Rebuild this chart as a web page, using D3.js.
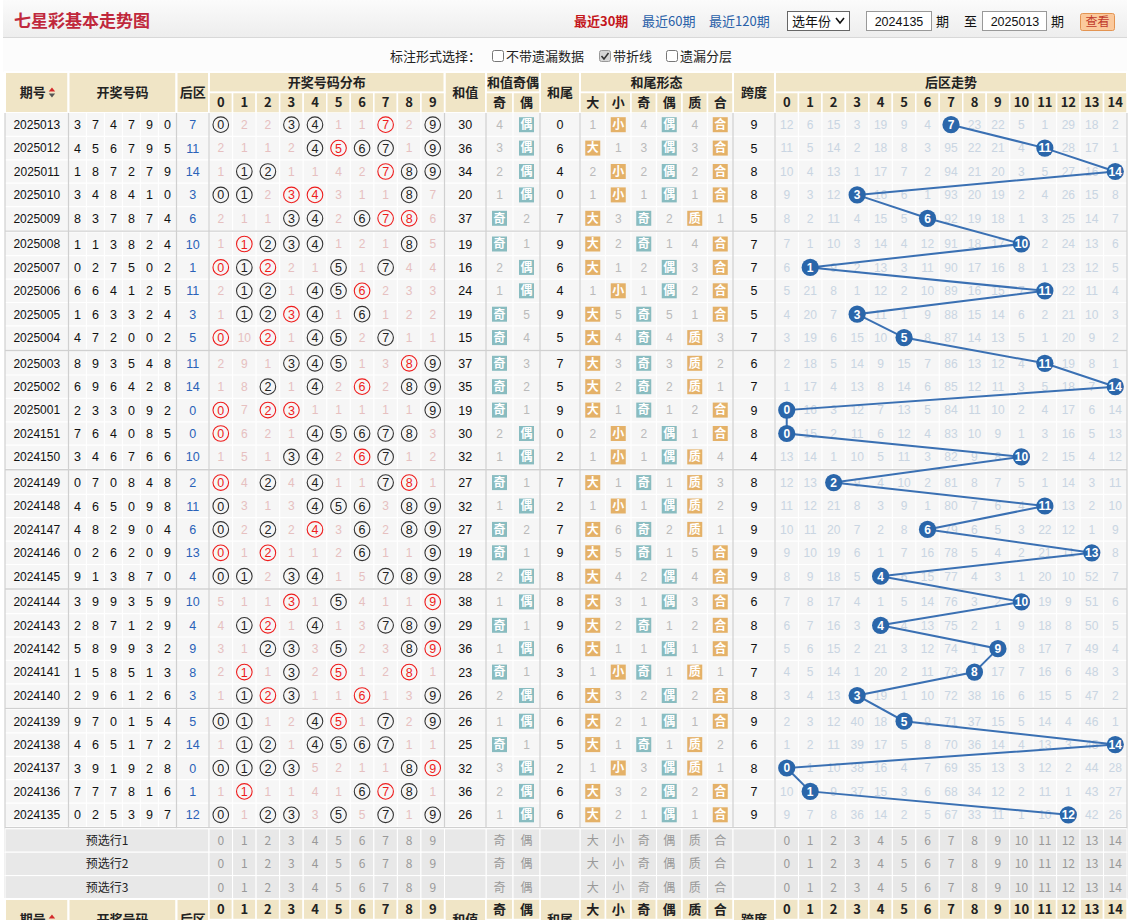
<!DOCTYPE html>
<html><head><meta charset="utf-8">
<script src="https://cdn.jsdelivr.net/npm/d3@7/dist/d3.min.js"></script>
<style>
body{margin:0;background:#fff;}
svg{display:block;font-family:"Liberation Sans","Noto Sans CJK SC",sans-serif;}
</style>
</head><body>
<svg id="c" width="1129" height="920"></svg>
<script>
// ---------------- DATA ----------------
const periods = ["2025013","2025012","2025011","2025010","2025009","2025008","2025007","2025006","2025005","2025004","2025003","2025002","2025001","2024151","2024150","2024149","2024148","2024147","2024146","2024145","2024144","2024143","2024142","2024141","2024140","2024139","2024138","2024137","2024136","2024135"];
const frontNums = [[3,7,4,7,9,0],[4,5,6,7,9,5],[1,8,7,2,7,9],[3,4,8,4,1,0],[8,3,7,8,7,4],[1,1,3,8,2,4],[0,2,7,5,0,2],[6,6,4,1,2,5],[1,6,3,3,2,4],[4,7,2,0,0,2],[8,9,3,5,4,8],[6,9,6,4,2,8],[2,3,3,0,9,2],[7,6,4,0,8,5],[3,4,6,7,6,6],[0,7,0,8,4,8],[4,6,5,0,9,8],[4,8,2,9,0,4],[0,2,6,2,0,9],[9,1,3,8,7,0],[3,9,9,3,5,9],[2,8,7,1,2,9],[5,8,9,9,3,2],[1,5,8,5,1,3],[2,9,6,1,2,6],[9,7,0,1,5,4],[4,6,5,1,7,2],[3,9,1,9,2,8],[7,7,7,8,1,6],[0,2,5,3,9,7]];
const backNums = [7,11,14,3,6,10,1,11,3,5,11,14,0,0,10,2,11,6,13,4,10,4,9,8,3,5,14,0,1,12];
// distribution 0-9: 0 = drawn (circled), otherwise omission count
const distMiss = [[0,2,2,0,0,1,1,0,2,0],[2,1,1,2,0,0,0,0,1,0],[1,0,0,1,1,4,2,0,0,0],[0,0,2,0,0,3,1,1,0,7],[2,1,1,0,0,2,0,0,0,6],[1,0,0,0,0,1,2,1,0,5],[0,0,0,2,1,0,1,0,4,4],[2,0,0,1,0,0,0,2,3,3],[1,0,0,0,0,1,0,1,2,2],[0,10,0,1,0,0,2,0,1,1],[2,9,1,0,0,0,1,3,0,0],[1,8,0,1,0,2,0,2,0,0],[0,7,0,0,1,1,1,1,1,0],[0,6,2,1,0,0,0,0,0,3],[1,5,1,0,0,2,0,0,1,2],[0,4,0,4,0,1,1,0,0,1],[0,3,1,3,0,0,0,3,0,0],[0,2,0,2,0,3,0,2,0,0],[0,1,0,1,1,2,0,1,1,0],[0,0,2,0,0,1,5,0,0,0],[5,1,1,0,1,0,4,1,1,0],[4,0,0,1,0,1,3,0,0,0],[3,1,0,0,3,0,2,3,0,0],[2,0,1,0,2,0,1,2,0,1],[1,0,0,0,1,1,0,1,3,0],[0,0,1,2,0,0,1,0,2,0],[1,0,0,1,0,0,0,0,1,1],[0,0,0,0,5,2,1,1,0,0],[1,0,1,1,4,1,0,0,0,1],[0,1,0,0,3,0,5,0,1,0]];
const distRed = [[7],[5],[7],[3,4],[7,8],[1],[0,2],[6],[3],[0,2],[8],[6],[0,2,3],[0],[6],[0,8],[],[4],[0,2],[],[3,9],[2],[9],[1,5,8],[2,6],[5],[],[9],[1,7],[]];
const sums = [30,36,34,20,37,19,16,24,19,15,37,35,19,30,32,27,32,27,19,28,38,29,36,23,26,26,25,32,36,26];
const sumParity = [[4,0],[3,0],[2,0],[1,0],[0,2],[0,1],[2,0],[1,0],[0,5],[0,4],[0,3],[0,2],[0,1],[2,0],[1,0],[0,1],[1,0],[0,2],[0,1],[2,0],[1,0],[0,1],[1,0],[0,1],[2,0],[1,0],[0,1],[3,0],[2,0],[1,0]];
const tails = [0,6,4,0,7,9,6,4,9,5,7,5,9,0,2,7,2,7,9,8,8,9,6,3,6,6,5,2,6,6];
const tailSize = [[1,0],[0,1],[2,0],[1,0],[0,3],[0,2],[0,1],[1,0],[0,5],[0,4],[0,3],[0,2],[0,1],[2,0],[1,0],[0,1],[1,0],[0,6],[0,5],[0,4],[0,3],[0,2],[0,1],[1,0],[0,3],[0,2],[0,1],[1,0],[0,3],[0,2]];
const tailParity = [[4,0],[3,0],[2,0],[1,0],[0,2],[0,1],[2,0],[1,0],[0,5],[0,4],[0,3],[0,2],[0,1],[2,0],[1,0],[0,1],[1,0],[0,2],[0,1],[2,0],[1,0],[0,1],[1,0],[0,1],[2,0],[1,0],[0,1],[3,0],[2,0],[1,0]];
const tailPrime = [[4,0],[3,0],[2,0],[1,0],[0,1],[4,0],[3,0],[2,0],[1,0],[0,3],[0,2],[0,1],[2,0],[1,0],[0,4],[0,3],[0,2],[0,1],[5,0],[4,0],[3,0],[2,0],[1,0],[0,1],[2,0],[1,0],[0,2],[0,1],[2,0],[1,0]];
const spans = [9,5,8,8,5,7,7,5,5,7,6,7,9,8,4,8,9,9,9,9,6,8,7,7,8,9,6,8,7,9];
const backMiss = [[12,6,15,3,19,9,4,0,23,22,5,1,29,18,2],[11,5,14,2,18,8,3,95,22,21,4,0,28,17,1],[10,4,13,1,17,7,2,94,21,20,3,5,27,16,0],[9,3,12,0,16,6,1,93,20,19,2,4,26,15,8],[8,2,11,4,15,5,0,92,19,18,1,3,25,14,7],[7,1,10,3,14,4,12,91,18,17,0,2,24,13,6],[6,0,9,2,13,3,11,90,17,16,8,1,23,12,5],[5,21,8,1,12,2,10,89,16,15,7,0,22,11,4],[4,20,7,0,11,1,9,88,15,14,6,2,21,10,3],[3,19,6,15,10,0,8,87,14,13,5,1,20,9,2],[2,18,5,14,9,15,7,86,13,12,4,0,19,8,1],[1,17,4,13,8,14,6,85,12,11,3,5,18,7,0],[0,16,3,12,7,13,5,84,11,10,2,4,17,6,14],[0,15,2,11,6,12,4,83,10,9,1,3,16,5,13],[13,14,1,10,5,11,3,82,9,8,0,2,15,4,12],[12,13,0,9,4,10,2,81,8,7,5,1,14,3,11],[11,12,21,8,3,9,1,80,7,6,4,0,13,2,10],[10,11,20,7,2,8,0,79,6,5,3,22,12,1,9],[9,10,19,6,1,7,16,78,5,4,2,21,11,0,8],[8,9,18,5,0,6,15,77,4,3,1,20,10,52,7],[7,8,17,4,1,5,14,76,3,2,0,19,9,51,6],[6,7,16,3,0,4,13,75,2,1,9,18,8,50,5],[5,6,15,2,21,3,12,74,1,0,8,17,7,49,4],[4,5,14,1,20,2,11,73,0,17,7,16,6,48,3],[3,4,13,0,19,1,10,72,38,16,6,15,5,47,2],[2,3,12,40,18,0,9,71,37,15,5,14,4,46,1],[1,2,11,39,17,5,8,70,36,14,4,13,3,45,0],[0,1,10,38,16,4,7,69,35,13,3,12,2,44,28],[10,0,9,37,15,3,6,68,34,12,2,11,1,43,27],[9,7,8,36,14,2,5,67,33,11,1,10,0,42,26]];
const distLabels = ["0","1","2","3","4","5","6","7","8","9"];
const parityLabels = ["奇","偶"];
const shapeLabels = ["大","小","奇","偶","质","合"];
const backLabels = ["0","1","2","3","4","5","6","7","8","9","10","11","12","13","14"];
const preRows = ["预选行1","预选行2","预选行3"];

// ---------------- LAYOUT ----------------
const C = {beige:'#f0e5c6', cell:'#f6f6f6', pre:'#e8e8e8', sep:'#d0d0d0',
  pink:'#e6c0c0', gray:'#bababa', backMiss:'#c9d5e2', teal:'#89bcc0', orange:'#e4b168',
  ball:'#2a66aa', line:'#3a70b3', red:'#ee1c1c', blueTxt:'#2a62b8', dark:'#222'};
const svg = d3.select('#c');
const TOP = 113, ROWH = 23.4, GAP = 2.3, N = periods.length;
const yRow = d3.scaleLinear().domain([0,1]).range([0,ROWH]);
const rowTop = i => TOP + yRow(i) + Math.floor(i/5)*GAP;
const rowMid = i => rowTop(i) + ROWH/2;

const xPeriod=[5,68.5], xBackCol=[176.5,209], xSum=[444.5,486], xTail=[540,580], xSpan=[733,775];
const xNum = d3.scaleBand().domain(d3.range(6)).range([68.5,176.5]);
const xDist = d3.scaleBand().domain(d3.range(10)).range([209,444.5]);
const xPar = d3.scaleBand().domain([0,1]).range([486,540]);
const xShape = d3.scaleBand().domain(d3.range(6)).range([580,733]);
const xBack = d3.scaleBand().domain(d3.range(15)).range([775,1127]);
const cx = (sc,v) => sc(v) + sc.bandwidth()/2;
const mid = a => (a[0]+a[1])/2;

function text(g,x,y,s,o={}){
  return g.append('text').attr('x',x).attr('y',y).attr('dy','0.36em')
    .attr('text-anchor',o.anchor||'middle').attr('font-size',o.size||12)
    .attr('font-weight',o.weight||'normal').attr('fill',o.fill||C.dark)
    .attr('font-family',o.family||null).text(s);
}
function cell(g,x0,x1,y0,y1,fill,sw){
  g.append('rect').attr('x',x0).attr('y',y0).attr('width',x1-x0).attr('height',y1-y0)
   .attr('fill',fill).attr('stroke','#fff').attr('stroke-width',sw||1);
}
const CJK = '"Noto Sans CJK SC",sans-serif';

// ---------------- TOP BAR ----------------
const defs = svg.append('defs');
const lg = defs.append('linearGradient').attr('id','tb').attr('x1',0).attr('y1',0).attr('x2',0).attr('y2',1);
lg.append('stop').attr('offset','0%').attr('stop-color','#fbfbfb');
lg.append('stop').attr('offset','100%').attr('stop-color','#ededed');
svg.append('rect').attr('x',3).attr('y',0).attr('width',1124).attr('height',37.5).attr('fill','url(#tb)');
svg.append('line').attr('x1',3).attr('x2',1127).attr('y1',37.5).attr('y2',37.5).attr('stroke','#d8d8d8');
svg.append('rect').attr('x',3).attr('y',38).attr('width',1124).attr('height',34).attr('fill','#fcfcfc');
text(svg,14,21,'七星彩基本走势图',{anchor:'start',size:17,weight:'bold',fill:'#c0283c',family:CJK});
text(svg,574,21,'最近30期',{anchor:'start',size:13,weight:'bold',fill:'#c4161c',family:CJK});
text(svg,642,21,'最近60期',{anchor:'start',size:13,fill:'#2860a8',family:CJK});
text(svg,709,21,'最近120期',{anchor:'start',size:13,fill:'#2860a8',family:CJK});
svg.append('rect').attr('x',787.5).attr('y',11.5).attr('width',62).attr('height',19).attr('fill','#fff').attr('stroke','#666');
text(svg,792,21,'选年份',{anchor:'start',size:13,fill:'#111',family:CJK});
svg.append('path').attr('d','M836,18 L840,23 L844,18').attr('fill','none').attr('stroke','#111').attr('stroke-width',1.6);
svg.append('rect').attr('x',866.5).attr('y',11.5).attr('width',65).attr('height',19).attr('fill','#fff').attr('stroke','#999');
text(svg,899,21,'2024135',{size:12.5,fill:'#111'});
text(svg,936,21,'期',{anchor:'start',size:13,fill:'#111',family:CJK});
text(svg,964,21,'至',{anchor:'start',size:13,fill:'#111',family:CJK});
svg.append('rect').attr('x',982.5).attr('y',11.5).attr('width',64).attr('height',19).attr('fill','#fff').attr('stroke','#999');
text(svg,1015,21,'2025013',{size:12.5,fill:'#111'});
text(svg,1051,21,'期',{anchor:'start',size:13,fill:'#111',family:CJK});
svg.append('rect').attr('x',1080.5).attr('y',13.5).attr('width',34).attr('height',17).attr('rx',2).attr('fill','#fbc99c').attr('stroke','#e39452');
text(svg,1097.5,22,'查看',{size:12,fill:'#c0392b',family:CJK});

text(svg,390,56,'标注形式选择：',{anchor:'start',size:13,fill:'#222',family:CJK});
const cbs=[[492,'不带遗漏数据',false],[599,'带折线',true],[666,'遗漏分层',false]];
cbs.forEach(([x,l,ch])=>{
  svg.append('rect').attr('x',x+0.5).attr('y',50.5).attr('width',11).attr('height',11).attr('rx',2)
    .attr('fill',ch?'#d6d6d6':'#fff').attr('stroke',ch?'#999':'#777');
  if(ch) svg.append('path').attr('d',`M${x+2.5},${56} L${x+5},${59} L${x+9.5},${53}`).attr('fill','none').attr('stroke','#333').attr('stroke-width',1.5);
  text(svg,x+14,56,l,{anchor:'start',size:13,fill:'#222',family:CJK});
});

// ---------------- HEADER ----------------
function header(g,y0,flip){
  const yA=y0, yB=y0+20.5, yC=y0+41;
  const gy = flip ? [yB,yC] : [yA,yB];   // group-title row
  const sy = flip ? [yA,yB] : [yB,yC];   // sub-label row
  const H = {size:13,weight:'bold',fill:'#222',family:CJK};
  const spans2 = [[xPeriod,'期号'],[[68.5,176.5],'开奖号码'],[xBackCol,'后区'],[xSum,'和值'],[xTail,'和尾'],[xSpan,'跨度']];
  spans2.forEach(([xr,l])=>{
    cell(g,xr[0],xr[1],yA,yC,C.beige,2);
    const tx = l==='期号' ? mid(xr)-4 : mid(xr);
    text(g,tx,(yA+yC)/2,l,H);
    if(l==='期号'){
      g.append('path').attr('d',`M${tx+16},${(yA+yC)/2-1} l3.2,-4 l3.2,4z`).attr('fill','#d42a2a');
      g.append('path').attr('d',`M${tx+16},${(yA+yC)/2+1} l3.2,4 l3.2,-4z`).attr('fill','#555');
    }
  });
  const groups=[[[209,444.5],'开奖号码分布',xDist,distLabels],[[486,540],'和值奇偶',xPar,parityLabels],
    [[580,733],'和尾形态',xShape,shapeLabels],[[775,1127],'后区走势',xBack,backLabels]];
  groups.forEach(([xr,l,sc,labs])=>{
    cell(g,xr[0],xr[1],gy[0],gy[1],C.beige,2);
    text(g,mid(xr),(gy[0]+gy[1])/2,l,H);
    sc.domain().forEach((d,k)=>{
      cell(g,sc(d),sc(d)+sc.bandwidth(),sy[0],sy[1],C.beige,1.5);
      text(g,cx(sc,d),(sy[0]+sy[1])/2,labs[k],{size:13,weight:'bold',fill:'#222',family:CJK});
    });
  });
}
header(svg.append('g'),72,false);

// ---------------- BODY ----------------
const body = svg.append('g');
const bottom = rowTop(N);
body.append('rect').attr('x',5).attr('y',TOP).attr('width',1122).attr('height',bottom-TOP).attr('fill',C.cell);
// white grid lines (vertical)
const vlines = [...xNum.domain().map(d=>xNum(d)), ...xDist.domain().map(d=>xDist(d)), 486+27, ...xShape.domain().map(d=>xShape(d)), ...xBack.domain().map(d=>xBack(d))];
vlines.forEach(x=>body.append('line').attr('x1',x).attr('x2',x).attr('y1',TOP).attr('y2',bottom).attr('stroke','#fff').attr('stroke-width',1.2));
d3.range(1,N).forEach(i=>{ if(i%5) body.append('line').attr('x1',5).attr('x2',1127).attr('y1',rowTop(i)).attr('y2',rowTop(i)).attr('stroke','#fff').attr('stroke-width',1.2);});
// group separators
d3.range(1,7).forEach(k=>{
  const y = rowTop(k*5)-GAP;
  body.append('rect').attr('x',5).attr('y',y).attr('width',1122).attr('height',GAP).attr('fill','#fff');
  body.append('line').attr('x1',5).attr('x2',1127).attr('y1',y+GAP/2).attr('y2',y+GAP/2).attr('stroke',C.sep).attr('stroke-width',1.4);
});
const groupX = [5,68.5,176.5,209,444.5,486,540,580,733,775,1127];
groupX.forEach(x=>body.append('line').attr('x1',x).attr('x2',x).attr('y1',TOP).attr('y2',bottom+3*ROWH).attr('stroke',C.sep).attr('stroke-width',1.2));

periods.forEach((p,i)=>{
  const y = rowMid(i);
  text(body,mid(xPeriod),y,p,{size:12,fill:'#111'});
  frontNums[i].forEach((n,k)=>text(body,cx(xNum,k),y,n,{size:12.5,fill:'#111'}));
  text(body,mid(xBackCol),y,backNums[i],{size:12.5,fill:C.blueTxt});
  distMiss[i].forEach((m,d)=>{
    const x = cx(xDist,d);
    if(m===0){
      const red = distRed[i].includes(d);
      body.append('circle').attr('cx',x).attr('cy',y).attr('r',7.8).attr('fill','none')
        .attr('stroke',red?C.red:'#333').attr('stroke-width',1.1);
      text(body,x,y,d,{size:12.5,fill:red?C.red:'#222'});
    } else text(body,x,y,m,{size:12,fill:C.pink});
  });
  text(body,mid(xSum),y,sums[i],{size:12.5,fill:'#111'});
  function badgePair(sc,offset,vals,labs,color){
    vals.forEach((m,k)=>{
      const x = cx(sc,k+offset);
      if(m===0){
        body.append('rect').attr('x',x-7.5).attr('y',y-7.5).attr('width',15).attr('height',15).attr('fill',color);
        text(body,x,y,labs[k],{size:12,weight:'bold',fill:'#fff',family:CJK});
      } else text(body,x,y,m,{size:12,fill:C.gray});
    });
  }
  badgePair(xPar,0,sumParity[i],['奇','偶'],C.teal);
  text(body,mid(xTail),y,tails[i],{size:12.5,fill:'#111'});
  badgePair(xShape,0,tailSize[i],['大','小'],C.orange);
  badgePair(xShape,2,tailParity[i],['奇','偶'],C.teal);
  badgePair(xShape,4,tailPrime[i],['质','合'],C.orange);
  text(body,mid(xSpan),y,spans[i],{size:12.5,fill:'#111'});
  backMiss[i].forEach((m,j)=>{ if(j!==backNums[i]) text(body,cx(xBack,j),y,m,{size:12,fill:C.backMiss}); });
});

// trend line + balls
const pts = backNums.map((b,i)=>[cx(xBack,b),rowMid(i)]);
body.append('path').attr('d',d3.line()(pts)).attr('fill','none').attr('stroke',C.line).attr('stroke-width',2);
backNums.forEach((b,i)=>{
  body.append('circle').attr('cx',cx(xBack,b)).attr('cy',rowMid(i)).attr('r',8.6).attr('fill',C.ball);
  text(body,cx(xBack,b),rowMid(i),b,{size:12,weight:'bold',fill:'#fff'});
});

// ---------------- PRESELECT ROWS ----------------
const pre = svg.append('g');
preRows.forEach((l,r)=>{
  const y0 = bottom + yRow(r), y1 = y0+ROWH, y = y0+ROWH/2;
  cell(pre,5,209,y0,y1,C.pre);
  text(pre,107,y,l,{size:12,fill:'#222',family:CJK});
  [[xDist,distLabels],[xPar,parityLabels],[xShape,shapeLabels],[xBack,backLabels]].forEach(([sc,labs])=>{
    sc.domain().forEach((d,k)=>{ cell(pre,sc(d),sc(d)+sc.bandwidth(),y0,y1,C.pre); text(pre,cx(sc,d),y,labs[k],{size:12,fill:'#999',family:CJK}); });
  });
  [xSum,xTail,xSpan].forEach(xr=>cell(pre,xr[0],xr[1],y0,y1,C.pre));
});
header(svg.append('g'), bottom+3*ROWH, true);
</script>
</body></html>
